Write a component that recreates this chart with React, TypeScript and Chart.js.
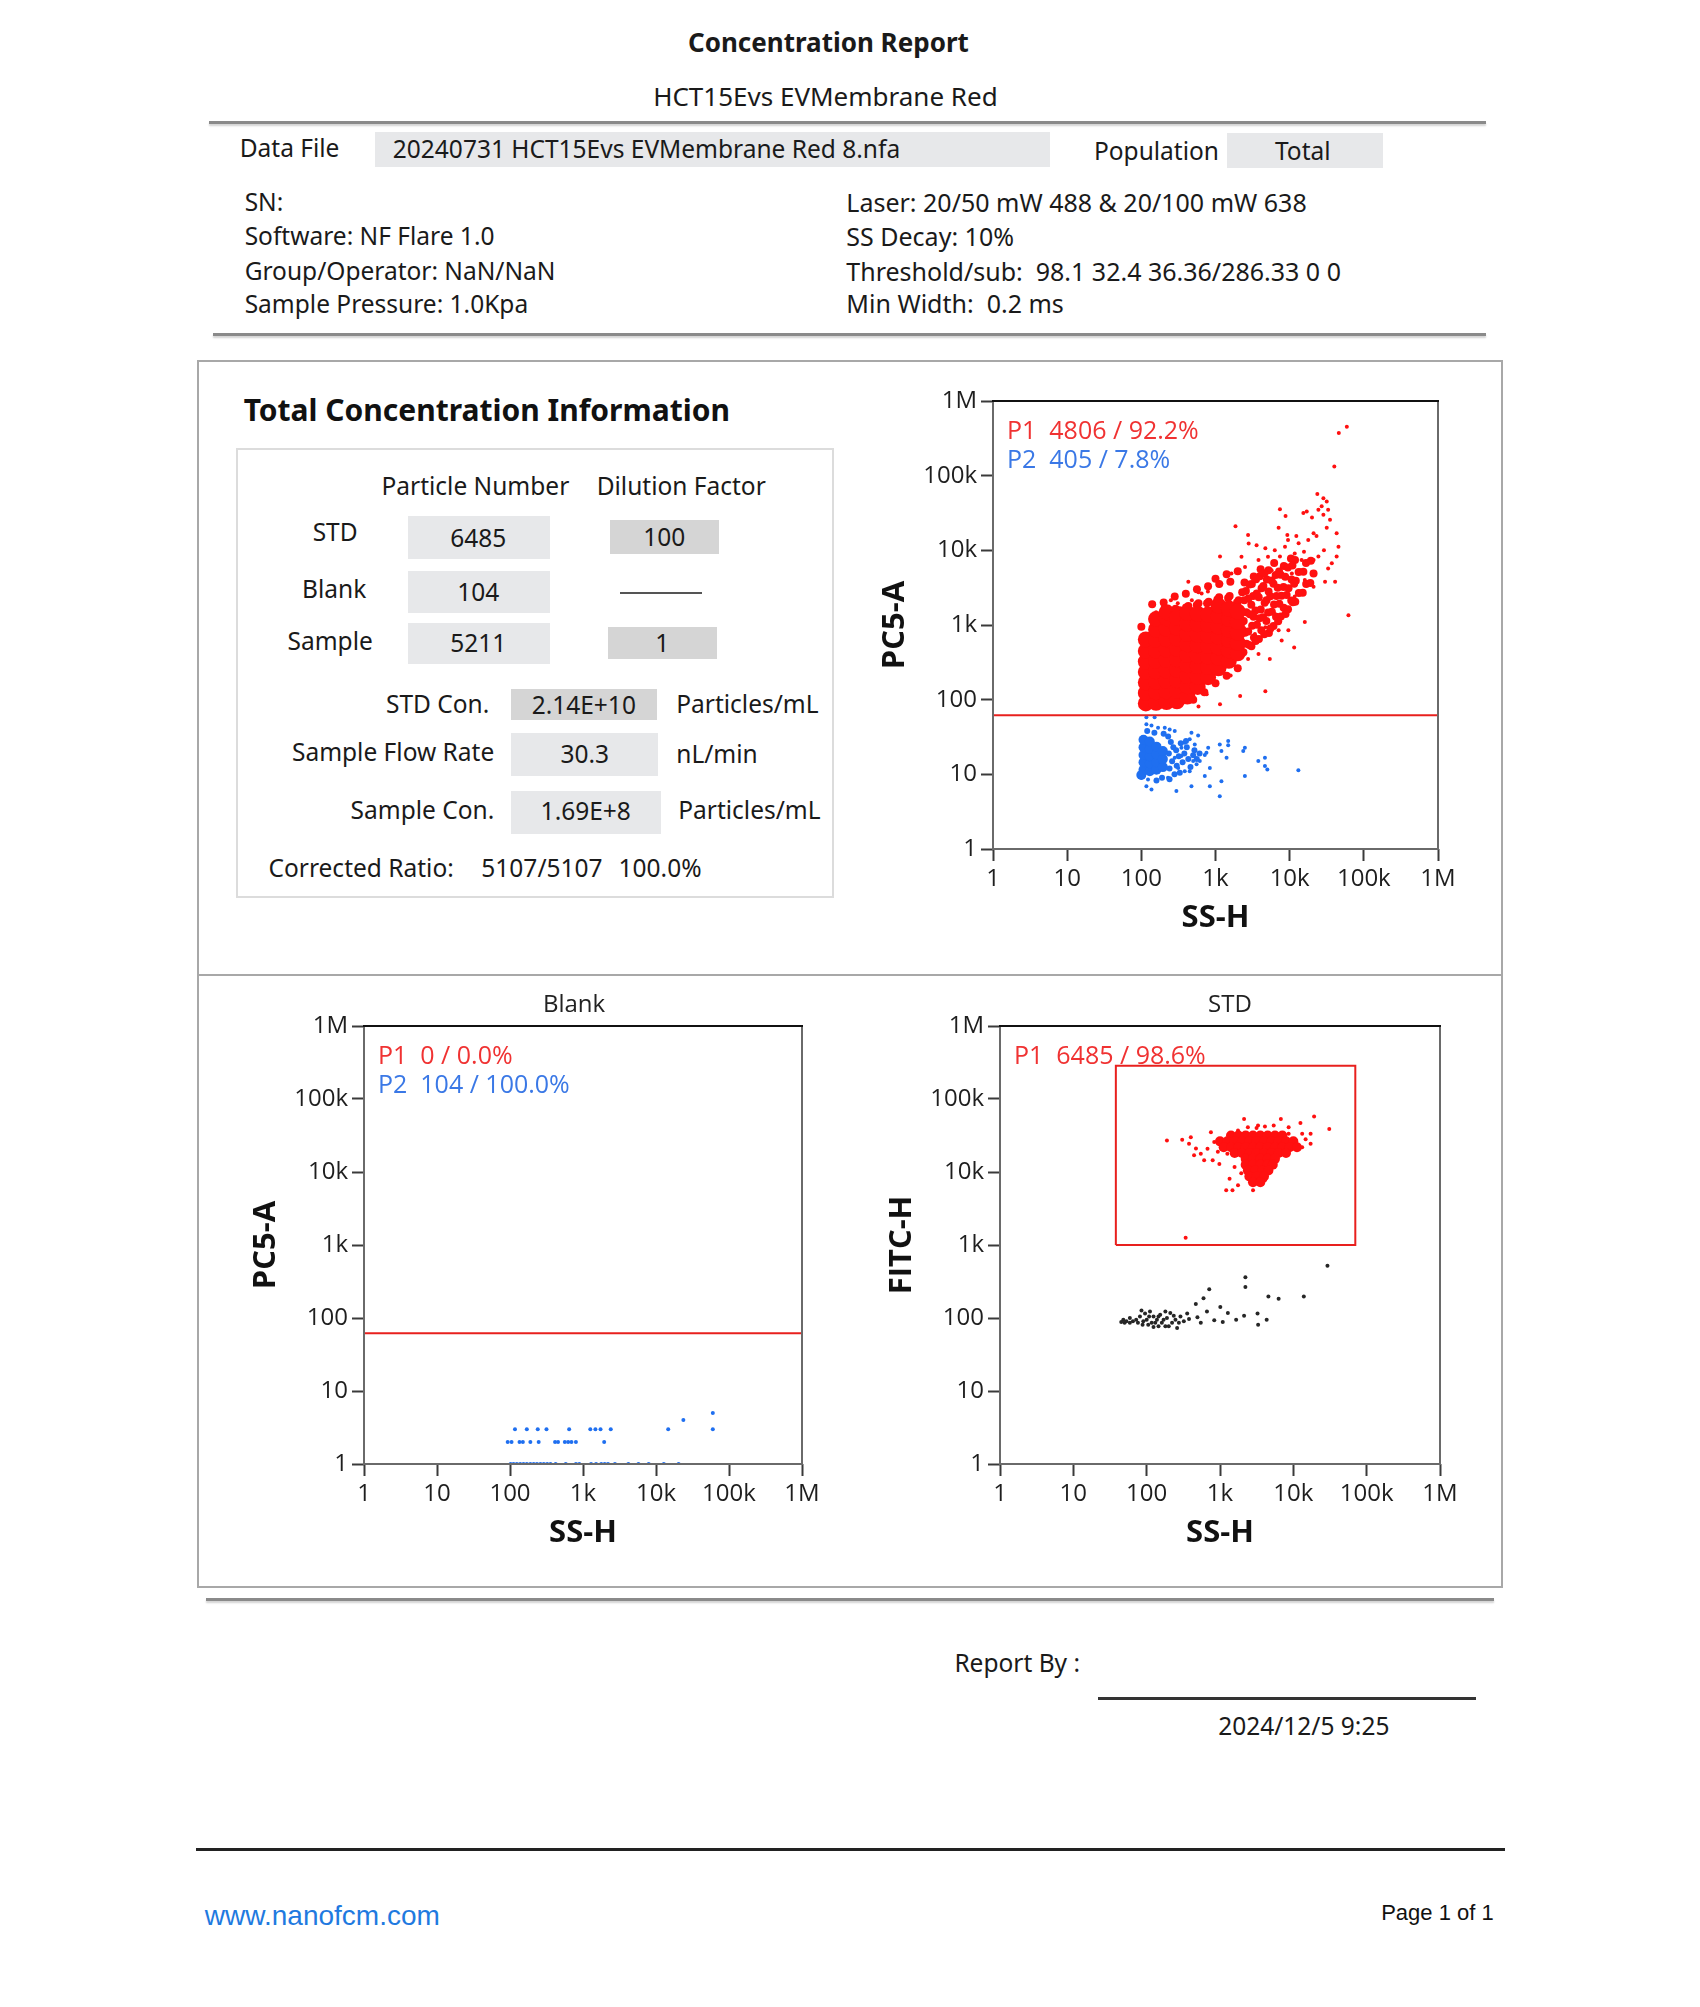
import React, { useEffect, useRef } from "react";
import { Chart, registerables } from "chart.js";
Chart.register(...registerables);

// ---------- axis data ----------
const TICK_VALUES = [1, 10, 100, 1000, 10000, 100000, 1000000];
const TICK_LABELS = ["1", "10", "100", "1k", "10k", "100k", "1M"];
const GATE_PC5 = 62;
const STD_GATE_X = [38, 70000];
const STD_GATE_Y = [1000, 285000];

// ---------- sample (PC5-A vs SS-H) ----------
const TOP_P1_CORE = [
  [115, 89], [115, 123], [115, 170], [115, 234], [115, 324], [115, 447], [115, 640],
  [158, 91], [158, 126], [158, 174], [158, 240], [158, 331], [158, 457], [158, 631], [158, 871], [158, 1202],
  [219, 93], [219, 129], [219, 178], [219, 245], [219, 339], [219, 468], [219, 646], [219, 891], [219, 1230], [219, 1479],
  [302, 95], [302, 132], [302, 182], [302, 251], [302, 347], [302, 479], [302, 661], [302, 912], [302, 1259],
  [417, 110], [417, 151], [417, 209], [417, 288], [417, 398], [417, 550], [417, 759], [417, 1047], [417, 1445],
  [575, 148], [575, 204], [575, 282], [575, 389], [575, 537], [575, 741], [575, 1023], [575, 1413],
  [794, 200], [794, 275], [794, 380], [794, 525], [794, 724], [794, 1000], [794, 1380],
  [1096, 263], [1096, 363], [1096, 501], [1096, 692], [1096, 955], [1096, 1318], [1096, 1820],
  [1514, 331], [1514, 457], [1514, 631], [1514, 871], [1514, 1202], [1514, 1660],
  [1995, 417], [1995, 575], [1995, 794], [1995, 1096], [1995, 1514],
];
const TOP_P1_MID = [
  [2380, 430], [2620, 560], [2500, 790], [2400, 1130], [2610, 1480], [2440, 2150], [2570, 2850], [2460, 3700],
  [3050, 520], [3300, 680], [3120, 980], [3260, 1290], [3040, 1870], [3220, 2440], [3090, 3550], [3280, 4450],
  [3850, 650], [4150, 850], [3920, 1230], [4080, 1610], [3830, 2350], [4180, 3100], [3960, 4480], [4060, 5600],
  [5250, 780], [4850, 1130], [5120, 1470], [4870, 2150], [5200, 2800], [4920, 4080], [5180, 5400],
  [6050, 970], [6550, 1290], [6150, 1880], [6650, 2450], [6050, 3560], [6480, 4680], [6180, 6750],
  [7600, 1300], [8300, 1700], [7750, 2460], [8250, 3230], [7550, 4700], [8350, 6150],
  [9500, 1620], [10500, 2130], [9650, 3100], [10600, 4080], [9450, 5900], [10400, 7750],
  [11900, 2050], [13300, 2680], [12100, 3900], [13200, 5120], [11800, 7400],
  [15000, 2700], [16700, 3540], [15300, 5150], [16600, 6750],
  [19000, 3650], [21000, 4900], [19300, 7250],
  [2200, 510], [2300, 870], [2180, 1600], [2290, 2750],
  [2850, 540], [2760, 820], [2900, 1390], [2780, 2260], [2880, 3500],
  [3480, 610], [3620, 1010], [3460, 1560], [3600, 2650], [3520, 4100],
  [4550, 750], [4380, 1270], [4600, 1980], [4420, 3330], [4570, 4950],
  [5500, 900], [5750, 1500], [5480, 2420], [5700, 3950],
  [7000, 1120], [7250, 1920], [6900, 3150], [7200, 5200],
  [8800, 1400], [9100, 2520], [8700, 4430],
  [11000, 2020], [11500, 3560], [10900, 6250],
  [290, 1650], [330, 1580], [430, 1800], [400, 1720], [590, 1950], [560, 1850], [810, 2050], [770, 1950],
  [1120, 2350], [1060, 2200], [1550, 2450], [1480, 2300], [2050, 2150], [1950, 2000],
  [200, 2000], [282, 2400], [398, 2630], [562, 3020], [794, 3310], [1122, 3550], [1585, 3800], [140, 1900],
  [100, 950], [1000, 4170], [1413, 4790], [1995, 5250], [1000, 166], [1413, 209], [1995, 263], [708, 126], [501, 100],
];
const TOP_P1_SPARSE = [
  [59000, 452000], [46000, 372000], [40000, 133000], [23600, 57000], [28500, 50000], [31600, 45000], [27000, 39000],
  [33000, 35000], [24400, 35000], [28500, 30000], [35000, 25700], [31600, 20000], [7400, 35500], [8800, 28800],
  [15300, 31600], [17000, 33000], [20000, 27500], [1860, 21000], [2750, 16100], [7100, 20000], [9300, 16100],
  [12300, 15500], [21000, 17000], [23000, 15500], [43000, 17000], [2800, 12300], [3580, 11700], [4700, 10700],
  [6300, 10000], [7400, 8300], [8650, 11200], [11700, 9100], [15600, 9600], [29000, 10000], [45500, 11200],
  [43000, 8300], [37000, 6700], [33000, 5700], [1150, 8300], [430, 3800], [790, 2800], [650, 2650], [480, 2150],
  [1200, 3560], [1640, 4900], [2500, 6000], [3100, 4400], [4200, 4900], [5700, 5400], [7800, 6000], [10700, 6600],
  [14500, 7400], [20000, 5100], [16000, 4000], [21000, 3250], [30000, 3800], [41000, 3800], [62000, 1350],
  [16000, 1100], [11500, 500], [5400, 350], [4700, 130], [2150, 112], [1150, 87], [1600, 210], [2750, 350],
  [3800, 410], [7800, 620], [9600, 850], [760, 118], [590, 81], [158, 1480], [195, 1740], [250, 2150], [310, 1950],
  [590, 2750], [1100, 3800], [2240, 8200], [3800, 7400], [5100, 8200], [9500, 13800], [13200, 12400],
  [17800, 13800], [13800, 5400], [24400, 8300], [21000, 7400], [10700, 4900], [8700, 3250], [11700, 2400],
  [8700, 1740], [6300, 1400], [4700, 930], [3400, 760], [7100, 850],
];
const TOP_P2_CORE = [
  [107, 11.5], [107, 14.5], [107, 18.2], [107, 23], [107, 29],
  [130, 11], [130, 14], [130, 17.5], [130, 22], [130, 27.5],
  [160, 11.5], [160, 14.5], [160, 18.5], [160, 23.5],
  [195, 12.5], [195, 16], [195, 20.5], [100, 9.8],
];
const TOP_P2_MID = [
  [240, 12], [260, 15], [235, 19], [270, 23], [250, 27], [300, 13], [320, 17.5], [295, 21], [340, 26],
  [360, 14.5], [380, 19], [410, 23], [430, 16], [460, 12.5], [500, 18], [280, 10], [230, 32], [200, 35],
  [150, 36], [120, 38], [330, 10.5], [520, 21], [560, 16], [610, 19], [400, 28], [190, 9], [160, 8.3], [240, 8.6],
];
const TOP_P2_SPARSE = [
  [117, 58], [151, 58], [117, 47], [137, 45], [168, 42], [207, 42], [241, 40], [282, 38], [474, 36], [583, 33],
  [449, 29.5], [385, 26.5], [347, 22.7], [525, 25], [797, 22.7], [1142, 25], [1483, 28], [1483, 24.6], [755, 19.5],
  [1202, 20.5], [717, 18.2], [2490, 22.7], [2366, 20.5], [1410, 16.7], [500, 15.1], [614, 15.1], [556, 13.6],
  [385, 11], [449, 11], [839, 12.2], [717, 9.5], [1202, 8.1], [2490, 9.5], [3776, 15.1], [4640, 16.7],
  [4640, 12.9], [5000, 11.6], [13100, 11.3], [297, 6], [474, 6.9], [839, 6.9], [1142, 5.1], [117, 6.9],
  [137, 6.25], [123, 8.5], [100, 9], [229, 9], [314, 12.2], [282, 16.7], [347, 17.6],
];
const TOP_LEGEND = ["P1  4806 / 92.2%", "P2  405 / 7.8%"];

// ---------- blank ----------
const BLANK_P2 = [
  [102, 1], [112, 1], [124, 1], [138, 1], [153, 1], [170, 1], [190, 1], [211, 1], [234, 1], [261, 1], [290, 1],
  [323, 1], [359, 1], [422, 1], [580, 1], [800, 1], [890, 1], [1290, 1], [1510, 1], [1780, 1], [1980, 1],
  [2200, 1], [2740, 1], [4180, 1], [5750, 1], [7940, 1], [12800, 1], [20400, 1],
  [93, 2], [105, 2], [135, 2], [150, 2], [190, 2], [247, 2], [414, 2], [455, 2], [564, 2], [626, 2], [695, 2],
  [800, 2], [1950, 2],
  [117, 3], [170, 3], [240, 3], [316, 3], [646, 3], [1259, 3], [1479, 3], [1738, 3], [2399, 3], [14700, 3], [60000, 3],
  [23700, 4], [60000, 5],
];
const BLANK_LEGEND = ["P1  0 / 0.0%", "P2  104 / 100.0%"];

// ---------- STD (FITC-H vs SS-H) ----------
const STD_P1_CORE = [
  [1413, 31623], [1778, 31623], [2239, 31623], [2818, 31623], [3548, 31623], [4467, 31623], [5623, 31623], [7079, 31623],
  [1000, 26303], [1259, 26303], [1585, 26303], [1995, 26303], [2512, 26303], [3162, 26303], [3981, 26303], [5012, 26303], [6310, 26303], [7943, 26303], [10000, 26303],
  [1122, 21878], [1413, 21878], [1778, 21878], [2239, 21878], [2818, 21878], [3548, 21878], [4467, 21878], [5623, 21878], [7079, 21878], [8913, 21878], [11220, 21878],
  [1585, 18197], [1995, 18197], [2512, 18197], [3162, 18197], [3981, 18197], [5012, 18197], [6310, 18197], [7943, 18197],
  [2239, 15136], [2818, 15136], [3548, 15136], [4467, 15136], [5623, 15136],
  [2239, 12589], [2818, 12589], [3548, 12589], [4467, 12589], [5248, 12589],
  [2399, 10471], [3020, 10471], [3802, 10471], [4571, 10471],
  [2512, 8710], [3162, 8710], [3981, 8710],
  [2818, 7244], [3548, 7244],
];
const STD_P1_SPARSE = [
  [189, 27000], [305, 27600], [400, 30000], [378, 24300], [470, 21000], [443, 16900], [547, 17800], [676, 20800],
  [752, 35100], [835, 25700], [795, 14500], [980, 12900], [1350, 8100], [1760, 6600], [1215, 5620], [2130, 53400],
  [6760, 53400], [12500, 46800], [19200, 57500], [30900, 38900], [17200, 33300], [17200, 24300], [13200, 33300],
  [5400, 43300], [4100, 41900], [3150, 40000], [1760, 37000], [1350, 31600], [935, 18900], [608, 14500],
  [340, 1260], [8630, 33300], [10700, 27000], [13200, 21900], [14700, 28200], [7100, 17800], [5700, 14500],
  [2400, 41000], [3300, 43300], [1580, 21900], [1260, 17800], [1580, 11700], [1950, 9600], [4100, 7700],
  [4570, 9600], [2820, 5620], [1480, 5620], [1030, 24300], [8630, 41000],
];
const STD_OTHER = [
  [29200, 518], [2220, 363], [2220, 265], [713, 248], [596, 187], [468, 155], [4570, 197], [6300, 184], [13900, 197],
  [1010, 141], [664, 123], [835, 93], [1280, 117], [1660, 95], [2130, 107], [3250, 115], [3310, 81], [4330, 95],
  [1090, 88], [547, 86], [492, 102],
  [48, 95], [50, 86], [59, 86], [72, 95], [81, 105], [85, 127], [95, 115], [100, 95], [111, 123], [117, 86],
  [124, 105], [138, 95], [153, 111], [161, 86], [180, 77], [189, 100], [210, 117], [222, 86], [247, 95], [260, 73],
  [289, 105], [321, 90], [357, 115], [378, 97], [59, 100], [65, 90], [105, 81], [145, 77], [200, 77], [90, 90],
  [76, 86], [88, 81], [108, 105], [131, 86], [170, 95], [145, 105], [180, 123], [234, 107], [275, 86], [124, 75],
  [53, 90], [45, 88],
];
const STD_LEGEND = ["P1  6485 / 98.6%"];

// ---------- styling ----------
const K = 0.9945; // page coordinate scale
const k = (v: number) => v * K;
const RED = "#ff1010";
const BLUE = "#1f6ff0";
const BLACK = "#262626";
const RED_TXT = "#f03232";
const BLUE_TXT = "#3a78e6";
const CF = "'Open Sans', 'Noto Sans', sans-serif";
const PF = "'Noto Sans', 'Open Sans', sans-serif";
const YW = 116;
const XH = 88;
const PADR = 32;
const BODY = 24.5;
const TITLE_SPACE = 37;

const pts = (arr: number[][]) => arr.map(([x, y]) => ({ x, y }));

const framePlugin = {
  id: "frame",
  afterDatasetsDraw(chart: any) {
    const { ctx, chartArea: a } = chart;
    ctx.save();
    ctx.lineWidth = 2;
    ctx.strokeStyle = "#6a6a6a";
    ctx.strokeRect(a.left, a.top, a.right - a.left, a.bottom - a.top);
    ctx.strokeStyle = "#111";
    ctx.beginPath();
    ctx.moveTo(a.left - 1, a.top);
    ctx.lineTo(a.right + 1, a.top);
    ctx.stroke();
    ctx.restore();
  },
};

const gateTextPlugin = {
  id: "gateText",
  afterDraw(chart: any, _args: any, opts: any) {
    const { ctx, chartArea: a } = chart;
    const lines = opts.lines || [];
    ctx.save();
    ctx.textBaseline = "middle";
    if (opts.title) {
      ctx.font = `24px ${CF}`;
      ctx.fillStyle = "#222";
      ctx.textAlign = "center";
      ctx.fillText(opts.title, (a.left + a.right) / 2 + (opts.titleDx || 0), a.top - 21);
    }
    ctx.font = `25px ${CF}`;
    ctx.textAlign = "left";
    lines.forEach((l: any, i: number) => {
      ctx.fillStyle = l.color;
      ctx.fillText(l.text, a.left + 14, a.top + 31 + i * 29);
    });
    ctx.restore();
  },
};

function axis(title: string, isX: boolean) {
  return {
    type: "logarithmic",
    min: 1,
    max: 1000000,
    afterBuildTicks: (s: any) => {
      s.ticks = TICK_VALUES.map((v) => ({ value: v }));
    },
    afterFit: (s: any) => {
      if (isX) s.height = XH;
      else s.width = YW;
    },
    ticks: {
      autoSkip: false,
      maxRotation: 0,
      minRotation: 0,
      padding: 4,
      color: "#1e1e1e",
      font: { family: CF, size: 24 },
      callback: (_v: any, i: number) => TICK_LABELS[i],
    },
    grid: {
      display: true,
      drawOnChartArea: false,
      drawTicks: true,
      tickLength: 12,
      tickWidth: 2,
      tickColor: "#3a3a3a",
    },
    border: { display: false },
    title: {
      display: true,
      text: title,
      color: "#111",
      padding: 0,
      font: { family: CF, size: 31, weight: "bold" },
    },
  };
}

type Spec = {
  plotLeft: number;
  plotTop: number;
  plotW: number;
  plotH: number;
  yTitle: string;
  title?: string;
  titleDx?: number;
  legend: { text: string; color: string }[];
  datasets: any[];
};

function ScatterPlot({ spec }: { spec: Spec }) {
  const ref = useRef<HTMLCanvasElement>(null);
  const padTop = spec.title ? TITLE_SPACE : 20;
  const w = Math.round(YW + spec.plotW + PADR);
  const h = Math.round(padTop + spec.plotH + XH);
  const left = Math.round(spec.plotLeft - YW);
  const top = Math.round(spec.plotTop - padTop);

  useEffect(() => {
    const chart = new Chart(ref.current as HTMLCanvasElement, {
      type: "scatter",
      data: { datasets: spec.datasets },
      options: {
        animation: false,
        responsive: false,
        events: [],
        layout: { padding: { top: padTop, right: PADR, left: 0, bottom: 0 } },
        plugins: {
          legend: { display: false },
          tooltip: { enabled: false },
          title: { display: false },
          gateText: { lines: spec.legend, title: spec.title, titleDx: spec.titleDx },
        } as any,
        scales: {
          x: axis("SS-H", true) as any,
          y: axis(spec.yTitle, false) as any,
        },
      },
      plugins: [framePlugin, gateTextPlugin],
    });
    return () => chart.destroy();
  }, []);

  return (
    <canvas
      ref={ref}
      width={w}
      height={h}
      style={{ position: "absolute", left, top, width: w, height: h }}
    />
  );
}

const dots = (label: string, arr: number[][], color: string, r: number) => ({
  label,
  data: pts(arr),
  pointRadius: r,
  pointHoverRadius: r,
  backgroundColor: color,
  borderWidth: 0,
});

const hLine = (label: string, y: number) => ({
  label,
  data: [
    { x: TICK_VALUES[0], y },
    { x: TICK_VALUES[TICK_VALUES.length - 1], y },
  ],
  showLine: true,
  borderColor: "#e8201e",
  borderWidth: 2,
  pointRadius: 0,
});

const rectGate = (label: string) => ({
  label,
  data: [
    { x: STD_GATE_X[0], y: STD_GATE_Y[0] },
    { x: STD_GATE_X[1], y: STD_GATE_Y[0] },
    { x: STD_GATE_X[1], y: STD_GATE_Y[1] },
    { x: STD_GATE_X[0], y: STD_GATE_Y[1] },
    { x: STD_GATE_X[0], y: STD_GATE_Y[0] },
  ],
  showLine: true,
  borderColor: "#e8201e",
  borderWidth: 2,
  pointRadius: 0,
});

const Txt = ({ x, y, children, size = BODY, weight = 400, align = "left", color = "#1a1a1a", family = PF }: any) => {
  const tx = align === "center" ? "-50%" : align === "right" ? "-100%" : "0";
  return (
    <div
      style={{
        position: "absolute",
        left: k(x),
        top: k(y) - size * 0.6,
        height: size * 1.2,
        lineHeight: `${size * 1.2}px`,
        fontSize: size,
        fontWeight: weight,
        color,
        fontFamily: family,
        whiteSpace: "pre",
        transform: `translateX(${tx})`,
      }}
    >
      {children}
    </div>
  );
};

const Box = ({ x, y, w, h, bg = "transparent", border }: any) => (
  <div
    style={{
      position: "absolute",
      left: Math.round(k(x)),
      top: Math.round(k(y)),
      width: Math.round(k(w)),
      height: Math.round(k(h)),
      background: bg,
      border,
      boxSizing: "border-box",
    }}
  />
);

const Rule = ({ x, y, w, color = "#8a8a8a", shadow = true, h = 3 }: any) => (
  <div
    style={{
      position: "absolute",
      left: Math.round(k(x)),
      top: Math.round(k(y)),
      width: Math.round(k(w)),
      height: h,
      background: color,
      boxShadow: shadow ? "0 2px 2px rgba(0,0,0,0.18)" : "none",
    }}
  />
);

const LIGHT = "#e7e8ea";
const DARK = "#d5d5d5";

export default function App() {
  const topSpec: Spec = {
    plotLeft: 993,
    plotTop: 401,
    plotW: 445,
    plotH: 448,
    yTitle: "PC5-A",
    legend: [
      { text: TOP_LEGEND[0], color: RED_TXT },
      { text: TOP_LEGEND[1], color: BLUE_TXT },
    ],
    datasets: [
      hLine("gate", GATE_PC5),
      dots("P1 core", TOP_P1_CORE, RED, 8),
      dots("P1 mid", TOP_P1_MID, RED, 4),
      dots("P1", TOP_P1_SPARSE, RED, 2),
      dots("P2 core", TOP_P2_CORE, BLUE, 5),
      dots("P2 mid", TOP_P2_MID, BLUE, 3),
      dots("P2", TOP_P2_SPARSE, BLUE, 2),
    ],
  };
  const blankSpec: Spec = {
    plotLeft: 364,
    plotTop: 1026,
    plotW: 438,
    plotH: 438,
    yTitle: "PC5-A",
    title: "Blank",
    titleDx: -9,
    legend: [
      { text: BLANK_LEGEND[0], color: RED_TXT },
      { text: BLANK_LEGEND[1], color: BLUE_TXT },
    ],
    datasets: [hLine("gate", GATE_PC5), dots("P2", BLANK_P2, BLUE, 2)],
  };
  const stdSpec: Spec = {
    plotLeft: 1000,
    plotTop: 1026,
    plotW: 440,
    plotH: 438,
    yTitle: "FITC-H",
    title: "STD",
    titleDx: 10,
    legend: [{ text: STD_LEGEND[0], color: RED_TXT }],
    datasets: [
      rectGate("P1 gate"),
      dots("P1 core", STD_P1_CORE, RED, 5),
      dots("P1", STD_P1_SPARSE, RED, 2),
      dots("other", STD_OTHER, BLACK, 2),
    ],
  };

  return (
    <div style={{ position: "absolute", left: 0, top: 0, width: 1700, height: 2007, background: "#fff", fontFamily: PF }}>
      {/* header */}
      <Txt x={833} y={43} size={26} weight={700} align="center">Concentration Report</Txt>
      <Txt x={830} y={97} size={26} align="center">HCT15Evs EVMembrane Red</Txt>
      <Rule x={210} y={122} w={1284} />
      <Txt x={241} y={149}>Data File</Txt>
      <Box x={377} y={133} w={679} h={35} bg={LIGHT} />
      <Txt x={395} y={150}>20240731 HCT15Evs EVMembrane Red 8.nfa</Txt>
      <Txt x={1100} y={152}>Population</Txt>
      <Box x={1234} y={134} w={157} h={35} bg={LIGHT} />
      <Txt x={1310} y={152} align="center">Total</Txt>

      <Txt x={246} y={203}>SN:</Txt>
      <Txt x={246} y={237}>Software: NF Flare 1.0</Txt>
      <Txt x={246} y={272}>Group/Operator: NaN/NaN</Txt>
      <Txt x={246} y={305}>Sample Pressure: 1.0Kpa</Txt>
      <Txt x={851} y={203} size={25}>Laser: 20/50 mW 488 &amp; 20/100 mW 638</Txt>
      <Txt x={851} y={237} size={25}>SS Decay: 10%</Txt>
      <Txt x={851} y={272} size={25}>{"Threshold/sub:  98.1 32.4 36.36/286.33 0 0"}</Txt>
      <Txt x={851} y={305} size={25}>{"Min Width:  0.2 ms"}</Txt>
      <Rule x={214} y={335} w={1280} />

      {/* panel */}
      <Box x={198} y={362} w={1313} h={1235} border="2px solid #a8a8a8" />
      <Box x={198} y={979} w={1313} h={2} bg="#a8a8a8" />
      <Txt x={245} y={412} size={30} weight={700} color="#111">Total Concentration Information</Txt>
      <Box x={237} y={450} w={601} h={452} border="2px solid #dcdcdc" />
      <Txt x={478} y={488} align="center">Particle Number</Txt>
      <Txt x={685} y={488} align="center">Dilution Factor</Txt>

      <Txt x={337} y={535} align="center">STD</Txt>
      <Box x={410} y={519} w={143} h={43} bg={LIGHT} />
      <Txt x={481} y={541} align="center">6485</Txt>
      <Box x={613} y={523} w={110} h={34} bg={DARK} />
      <Txt x={668} y={540} align="center">100</Txt>

      <Txt x={336} y={592} align="center">Blank</Txt>
      <Box x={410} y={574} w={143} h={42} bg={LIGHT} />
      <Txt x={481} y={595} align="center">104</Txt>
      <Box x={623} y={595} w={82} h={2} bg="#555" />

      <Txt x={332} y={644} align="center">Sample</Txt>
      <Box x={410} y={626} w={143} h={41} bg={LIGHT} />
      <Txt x={481} y={646} align="center">5211</Txt>
      <Box x={611} y={630} w={110} h={32} bg={DARK} />
      <Txt x={666} y={646} align="center">1</Txt>

      <Txt x={492} y={708} align="right">STD Con.</Txt>
      <Box x={514} y={693} w={147} h={31} bg={DARK} />
      <Txt x={587} y={709} align="center">2.14E+10</Txt>
      <Txt x={680} y={708}>Particles/mL</Txt>

      <Txt x={497} y={756} align="right">Sample Flow Rate</Txt>
      <Box x={514} y={737} w={148} h={43} bg={LIGHT} />
      <Txt x={588} y={758} align="center">30.3</Txt>
      <Txt x={680} y={758}>nL/min</Txt>

      <Txt x={497} y={814} align="right">Sample Con.</Txt>
      <Box x={514} y={795} w={151} h={43} bg={LIGHT} />
      <Txt x={589} y={815} align="center">1.69E+8</Txt>
      <Txt x={682} y={814}>Particles/mL</Txt>

      <Txt x={270} y={872}>Corrected Ratio:</Txt>
      <Txt x={484} y={872}>5107/5107</Txt>
      <Txt x={622} y={872}>100.0%</Txt>

      <ScatterPlot spec={topSpec} />
      <ScatterPlot spec={blankSpec} />
      <ScatterPlot spec={stdSpec} />

      {/* footer */}
      <Rule x={207} y={1607} w={1295} />
      <Txt x={1086} y={1672} align="right">Report By :</Txt>
      <Rule x={1104} y={1706} w={380} color="#333" shadow={false} />
      <Txt x={1311} y={1735} align="center">2024/12/5 9:25</Txt>
      <Rule x={197} y={1858} w={1316} color="#222" shadow={false} />
      <Txt x={206} y={1926} size={28} color="#1f7ae0" family="'Liberation Sans', Arial, sans-serif">www.nanofcm.com</Txt>
      <Txt x={1502} y={1924} size={22} align="right" color="#111" family="'Liberation Sans', Arial, sans-serif">Page 1 of 1</Txt>
    </div>
  );
}
